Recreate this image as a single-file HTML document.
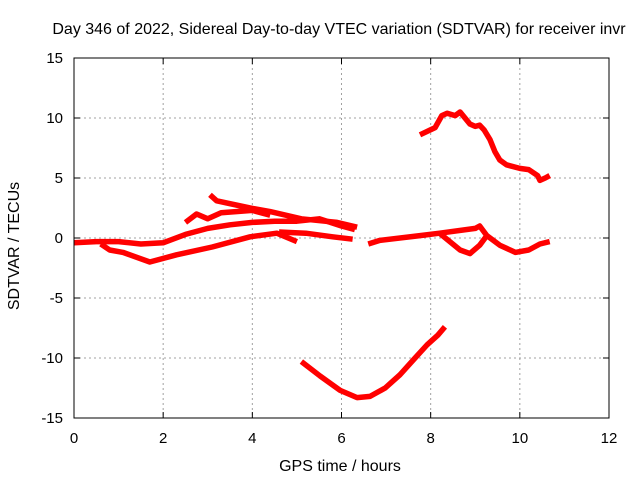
<!DOCTYPE html>
<html><head><meta charset="utf-8"><style>
body{margin:0;background:#fff;}
svg text{font-family:"Liberation Sans",sans-serif;font-size:15px;fill:#000;}
svg text.big{font-size:16px;}
</style></head><body>
<svg id="chart" width="640" height="480">
<rect width="640" height="480" fill="#fff"/>
<text class="big" x="339" y="34" text-anchor="middle">Day 346 of 2022, Sidereal Day-to-day VTEC variation (SDTVAR) for receiver invr</text>
<g id="grid"></g><g id="series"></g><g id="axes"></g>
<text class="big" x="340" y="471" text-anchor="middle">GPS time / hours</text>
<text class="big" transform="translate(19,246) rotate(-90)" text-anchor="middle">SDTVAR / TECUs</text>
</svg>
<script>
const xTicks=[0,2,4,6,8,10,12];
const yTicks=[15,10,5,0,-5,-10,-15];
const seriesA=[[7.76,8.6],[8.1,9.2],[8.25,10.2],[8.37,10.4],[8.55,10.2],[8.66,10.5],[8.77,10],[8.88,9.5],[9.0,9.3],[9.1,9.4],[9.2,9],[9.33,8.2],[9.44,7.2],[9.55,6.5],[9.7,6.1],[10.0,5.8],[10.2,5.7],[10.4,5.2],[10.45,4.8],[10.57,5],[10.67,5.2]];
const seriesB=[[5.1,-10.3],[5.52,-11.5],[5.97,-12.7],[6.35,-13.3],[6.64,-13.2],[6.98,-12.5],[7.31,-11.4],[7.65,-10],[7.92,-8.9],[8.16,-8.1],[8.32,-7.4]];
const seriesC1=[[0,-0.4],[0.5,-0.3],[1,-0.3],[1.5,-0.5],[2,-0.4],[2.5,0.3],[3,0.8],[3.5,1.1],[4,1.3],[4.5,1.4],[5,1.4],[5.5,1.6],[6,1.0],[6.3,0.7]];
const seriesC2=[[0.6,-0.5],[0.8,-1.0],[1.1,-1.2],[1.7,-2.0],[2.3,-1.4],[3.1,-0.75],[3.95,0.1],[4.55,0.4],[5.0,-0.3]];
const seriesC3=[[3.05,3.6],[3.2,3.1],[3.95,2.5],[4.4,2.2],[5.1,1.6],[5.9,1.3],[6.35,0.9]];
const seriesC4=[[2.5,1.3],[2.75,2.0],[3.0,1.6],[3.3,2.1],[4.0,2.3],[4.4,1.9]];
const seriesC5=[[4.6,0.5],[5.2,0.4],[5.8,0.1],[6.25,-0.1]];
const seriesC6=[[6.6,-0.5],[6.86,-0.2],[7.76,0.2],[8.2,0.4],[9.0,0.8],[9.1,1.0],[9.26,0.2],[9.55,-0.6],[9.9,-1.2],[10.2,-1.0],[10.45,-0.5],[10.67,-0.3]];
const seriesC7=[[8.2,0.4],[8.66,-1.0],[8.88,-1.3],[9.1,-0.6],[9.26,0.2]];
const allSeries=[seriesA,seriesB,seriesC1,seriesC2,seriesC3,seriesC4,seriesC5,seriesC6,seriesC7];
const X0=74,X1=609,Y0=418,Y1=58;
const sx=h=>X0+(h-0)/12*(X1-X0);
const sy=v=>Y0-(v+15)/30*(Y0-Y1);
const NS="http://www.w3.org/2000/svg";
function mk(t,a,p){const e=document.createElementNS(NS,t);for(const k in a)e.setAttribute(k,a[k]);p.appendChild(e);return e;}
const grid=document.getElementById('grid'),axes=document.getElementById('axes'),ser=document.getElementById('series');
xTicks.forEach(t=>{const x=sx(t);
 if(t>0&&t<12){const g=mk('line',{x1:x,x2:x,y1:Y1,y2:Y0,stroke:'#a0a0a0','stroke-dasharray':'2,3'},grid);
 
 }
 mk('line',{x1:x,x2:x,y1:Y0,y2:Y0-6,stroke:'#000'},axes);mk('line',{x1:x,x2:x,y1:Y1,y2:Y1+6,stroke:'#000'},axes);
 const l=mk('text',{x:x,y:Y0+25,'text-anchor':'middle'},axes);l.textContent=t;
 
 });
yTicks.forEach(t=>{const y=sy(t);
 if(t>-15&&t<15){const g=mk('line',{x1:X0,x2:X1,y1:y,y2:y,stroke:'#a0a0a0','stroke-dasharray':'2,3'},grid);
 
 }
 mk('line',{x1:X0,x2:X0+6,y1:y,y2:y,stroke:'#000'},axes);mk('line',{x1:X1,x2:X1-6,y1:y,y2:y,stroke:'#000'},axes);
 const l=mk('text',{x:X0-11,y:y+5,'text-anchor':'end'},axes);l.textContent=t;
 
 });
const fr=mk('rect',{x:X0,y:Y1,width:X1-X0,height:Y0-Y1,fill:'none',stroke:'#000'},axes);


allSeries.forEach((s,i)=>{
 const p=mk('polyline',{points:s.map(d=>sx(d[0])+','+sy(d[1])).join(' '),fill:'none',stroke:'#ff0000','stroke-width':5.5,'stroke-linejoin':'round'},ser);
 
 });
</script>
</body></html>
